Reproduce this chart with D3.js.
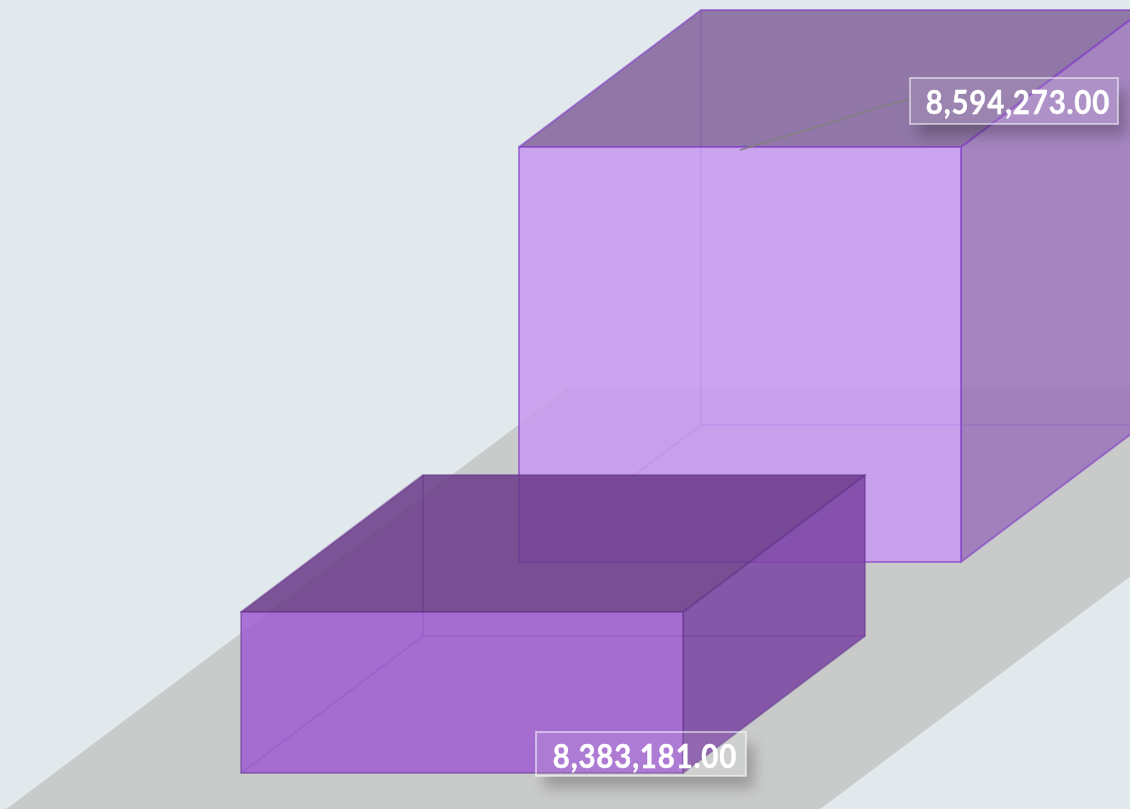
<!DOCTYPE html>
<html>
<head>
<meta charset="utf-8">
<script src="https://cdn.jsdelivr.net/npm/d3@7"></script>
<style>
html, body { margin: 0; padding: 0; background: #e1e9ec; overflow: hidden; }
svg { display: block; filter: blur(0.6px); }
</style>
</head>
<body>
<div id="chart"></div>
<script>
// rank along the floor, drawn back to front
var seriesRanks = [1, 0];
var seriesValues = [8594273, 8383181];

var frontColors = ['#c798f0', '#9f5dd1'];
var topColors = ['#81639b', '#693a88'];
var sideColors = ['#9a73b9', '#7943a2'];
var edgeColors = ['#8440c8', '#64308c'];
var edgeOpacities = [0.6, 0.45];

var width = 1130, height = 809;
var faceOpacity = 0.85;

// the value axis does not start at zero
var heightScale = d3.scaleLinear().domain([8249400, 8594273]).range([0, 415]);
var rankX = d3.scaleLinear().domain([0, 1]).range([241, 519]);
var rankY = d3.scaleLinear().domain([0, 1]).range([773, 562]);

var boxWidth = 442;
var depthX = 182, depthY = -137;
var labelFormat = d3.format(',.2f');

var svg = d3.select('#chart').append('svg')
	.attr('width', width)
	.attr('height', height);

var defs = svg.append('defs');
var blur = defs.append('filter').attr('id', 'soft')
	.attr('x', '-20%').attr('y', '-40%').attr('width', '140%').attr('height', '180%');
blur.append('feGaussianBlur').attr('stdDeviation', 7);

svg.append('rect')
	.attr('width', width)
	.attr('height', height)
	.attr('fill', '#e1e9ec');

// floor runs under both boxes and leaves the picture
var floorBottom = 813, floorTop = 388;
var floorLeft = 1, floorRight = 815;
var run = (floorBottom - floorTop) / 0.75;
svg.append('path')
	.attr('fill', '#c9cbca')
	.attr('d', d3.line()([
		[floorLeft, floorBottom],
		[floorLeft + run, floorTop],
		[floorRight + run, floorTop],
		[floorRight, floorBottom]
	]));

function poly(points) {
	return d3.line()(points) + 'Z';
}

function drawBox(i) {
	var g = svg.append('g');
	var x0 = rankX(seriesRanks[i]);
	var y0 = rankY(seriesRanks[i]);
	var x1 = x0 + boxWidth;
	var y1 = y0 - heightScale(seriesValues[i]);
	var edge = edgeColors[i];

	// hidden edges show through the faces
	[
		[[x0 + depthX, y0 + depthY], [x1 + depthX, y0 + depthY]],
		[[x0 + depthX, y0 + depthY], [x0 + depthX, y1 + depthY]],
		[[x0, y0], [x0 + depthX, y0 + depthY]]
	].forEach(function(seg) {
		g.append('path').attr('d', d3.line()(seg))
			.attr('stroke', edge)
			.attr('stroke-opacity', 0.5)
			.attr('stroke-width', 2)
			.attr('fill', 'none');
	});

	var faces = [
		{ fill: sideColors[i], pts: [[x1, y0], [x1 + depthX, y0 + depthY], [x1 + depthX, y1 + depthY], [x1, y1]] },
		{ fill: topColors[i], pts: [[x0, y1], [x1, y1], [x1 + depthX, y1 + depthY], [x0 + depthX, y1 + depthY]] },
		{ fill: frontColors[i], pts: [[x0, y0], [x1, y0], [x1, y1], [x0, y1]] }
	];
	faces.forEach(function(f) {
		g.append('path').attr('d', poly(f.pts))
			.attr('fill', f.fill)
			.attr('fill-opacity', faceOpacity)
			.attr('stroke', edge)
			.attr('stroke-opacity', edgeOpacities[i])
			.attr('stroke-width', 2)
			.attr('stroke-linejoin', 'round');
	});
}

function drawLabel(text, bx, by, bw, bh, clipId) {
	var clip = defs.append('clipPath').attr('id', clipId);
	clip.append('path')
		.attr('clip-rule', 'evenodd')
		.attr('d', 'M0,0H' + width + 'V' + height + 'H0Z' +
			'M' + bx + ',' + by + 'h' + bw + 'v' + bh + 'h' + (-bw) + 'Z');

	svg.append('g').attr('clip-path', 'url(#' + clipId + ')')
		.append('rect')
		.attr('x', bx + 8).attr('y', by + 12)
		.attr('width', bw).attr('height', bh)
		.attr('fill', '#000')
		.attr('fill-opacity', 0.24)
		.attr('filter', 'url(#soft)');

	svg.append('rect')
		.attr('x', bx).attr('y', by)
		.attr('width', bw).attr('height', bh)
		.attr('fill', '#fff')
		.attr('fill-opacity', 0.1)
		.attr('stroke', '#fff')
		.attr('stroke-opacity', 0.5)
		.attr('stroke-width', 2);

	// digits in the reference are narrow and tracked out
	svg.append('text')
		.attr('transform', 'translate(' + (bx + bw / 2 + 4) + ',' + (by + 35.5) + ') scale(0.92,1)')
		.attr('text-anchor', 'middle')
		.attr('font-family', 'Lato')
		.attr('font-weight', 700)
		.attr('font-size', 32)
		.attr('letter-spacing', 0.9)
		.attr('fill', '#fff')
		.attr('stroke', '#fff')
		.attr('stroke-width', 0.4)
		.text(text);
}

seriesValues.forEach(function(d, i) { drawBox(i); });

// leader from the big box up to its label
var bigX = rankX(1) + boxWidth / 2;
var bigY = rankY(1) - heightScale(seriesValues[0]);
svg.append('path')
	.attr('fill', 'none')
	.attr('stroke', '#808080')
	.attr('stroke-width', 1.5)
	.attr('d', d3.line().curve(d3.curveBasis)([
		[bigX, bigY + 3],
		[bigX + 70, bigY - 18],
		[bigX + 140, bigY - 40],
		[bigX + 170, bigY - 48]
	]));

drawLabel(labelFormat(seriesValues[0]), 910, 78, 208, 46, 'clipBig');
drawLabel(labelFormat(seriesValues[1]), 536, 732, 210, 44, 'clipSmall');
</script>
</body>
</html>
